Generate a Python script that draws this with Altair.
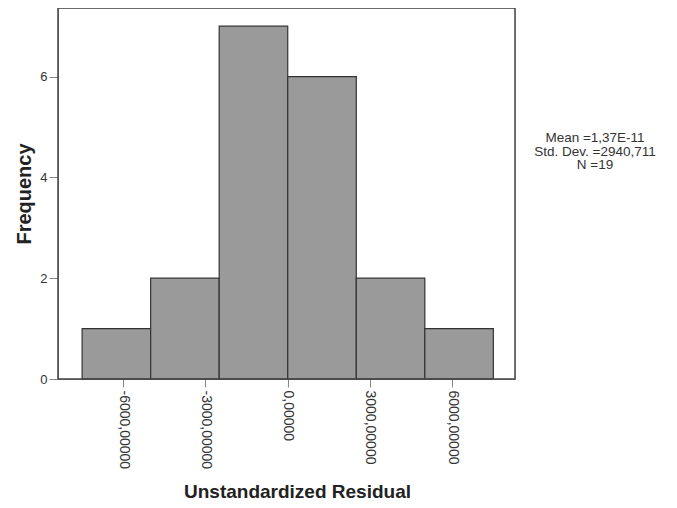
import altair as alt
import pandas as pd

bin_start = [-7500, -5000, -2500, 0, 2500, 5000]
bin_end = [-5000, -2500, 0, 2500, 5000, 7500]
counts = [1, 2, 7, 6, 2, 1]

x_ticks = [-6000, -3000, 0, 3000, 6000]
x_tick_labels = ["-6000,00000", "-3000,00000", "0,00000", "3000,00000", "6000,00000"]
y_ticks = [0, 2, 4, 6]

stats_lines = ["Mean =1,37E-11", "Std. Dev. =2940,711", "N =19"]

df = pd.DataFrame({"start": bin_start, "end": bin_end, "count": counts})

label_map = "{" + ", ".join(f"'{v}': '{l}'" for v, l in zip(x_ticks, x_tick_labels)) + "}"

FONT = "Liberation Sans"

bars = alt.Chart(df).mark_rect(
    fill="#9a9a9a", stroke="#333333", strokeWidth=1.2
).encode(
    x=alt.X("start:Q",
            scale=alt.Scale(domain=[-8380, 8290], nice=False, zero=False),
            axis=alt.Axis(values=x_ticks, labelExpr=f"{label_map}[''+datum.value]",
                          labelAngle=90, labelAlign="left", labelBaseline="middle",
                          labelPadding=3, tickSize=8, grid=False,
                          labelFont=FONT, labelFontSize=14, labelColor="#333333",
                          title="Unstandardized Residual", titleFontSize=19,
                          titleFont=FONT, titleFontWeight="bold", titleColor="#222222",
                          titleX=239, titleY=112, titleBaseline="middle")),
    x2="end:Q",
    y=alt.Y("count:Q",
            scale=alt.Scale(domain=[0, 7.36], nice=False),
            axis=alt.Axis(values=y_ticks, tickSize=9, grid=False, labelPadding=2,
                          labelFont=FONT, labelFontSize=13, labelColor="#333333",
                          title="Frequency", titleFontSize=20, titleFont=FONT,
                          titleFontWeight="bold",
                          titleColor="#222222", titleX=-34, titleBaseline="middle")),
    y2=alt.datum(0),
)

frame = alt.Chart(pd.DataFrame({"k": [0]})).mark_rect(
    fill="transparent", stroke="#444444", strokeWidth=1.5
).encode(
    x=alt.value(0), x2=alt.value(457), y=alt.value(0), y2=alt.value(371)
)

stats = alt.Chart(pd.DataFrame({"t": ["\n".join(stats_lines)]})).mark_text(
    lineBreak="\n", lineHeight=13.5, fontSize=13.5, font=FONT, color="#333333",
    align="center", baseline="top"
).encode(
    text="t:N",
    x=alt.value(537),
    y=alt.value(123),
)

chart = alt.layer(bars, frame, stats).properties(
    width=457, height=371,
    autosize=alt.AutoSizeParams(type="none"),
    padding={"left": 50, "top": 0, "right": 154, "bottom": 121},
).configure_view(
    fill="#f0f0f0", stroke=None
).configure_axis(
    domainColor="#333333", domainWidth=1.5, tickColor="#333333", tickWidth=1.5
).configure(background="white")

chart.save("out.html", embed_options={"renderer": "svg", "actions": False})
